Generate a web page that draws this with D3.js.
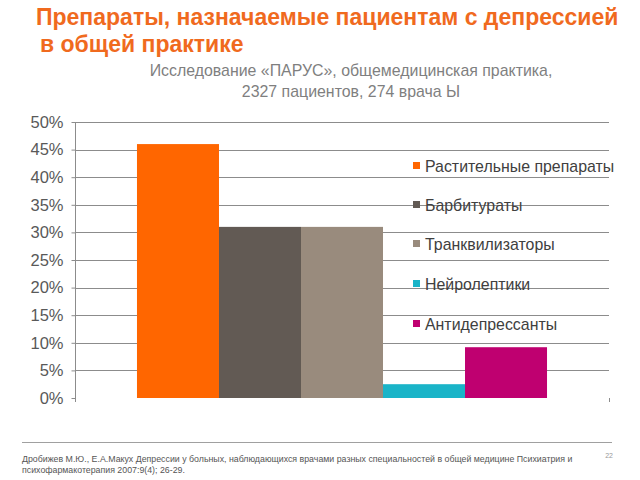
<!DOCTYPE html>
<html>
<head>
<meta charset="utf-8">
<script src="https://cdn.jsdelivr.net/npm/d3@7"></script>
<style>
  body { margin: 0; background: #fff; }
  svg { display: block; font-family: "Liberation Sans", Arial, sans-serif; }
</style>
</head>
<body>
<svg id="chart"></svg>
<script>
const categories = [""];
const series = ["Растительные препараты", "Барбитураты", "Транквилизаторы", "Нейролептики", "Антидепрессанты"];
const values = [0.46, 0.31, 0.31, 0.025, 0.092];
const colors = ["#ff6600", "#625a54", "#998b7d", "#1ab4c8", "#bf0070"];
const yTicks = [0, 0.05, 0.1, 0.15, 0.2, 0.25, 0.3, 0.35, 0.4, 0.45, 0.5];

const width = 640;
const height = 480;
const svg = d3.select("#chart").attr("width", width).attr("height", height);

// Title
svg.append("text")
  .attr("x", 36).attr("y", 25)
  .style("font-size", "23px").style("font-weight", "bold").style("fill", "#f06a1e")
  .text("Препараты, назначаемые пациентам с депрессией");
svg.append("text")
  .attr("x", 40).attr("y", 52)
  .style("font-size", "23px").style("font-weight", "bold").style("fill", "#f06a1e")
  .text("в общей практике");

// Subtitle
svg.append("text")
  .attr("x", 351).attr("y", 76).attr("text-anchor", "middle")
  .style("font-size", "15.9px").style("fill", "#7f7f7f")
  .text("Исследование «ПАРУС», общемедицинская практика,");
svg.append("text")
  .attr("x", 351).attr("y", 97).attr("text-anchor", "middle")
  .style("font-size", "15.9px").style("fill", "#7f7f7f")
  .text("2327 пациентов, 274 врача Ы");

// Plot area
const margin = { left: 75, right: 609, top: 122, bottom: 398 };

const y = d3.scaleLinear().domain([0, 0.5]).range([margin.bottom, margin.top]);

const x0 = d3.scaleBand()
  .domain(categories)
  .range([margin.left, margin.right])
  .paddingInner(0.1313)
  .paddingOuter(0.1313);

const x1 = d3.scaleBand()
  .domain(series)
  .range([0, x0.bandwidth()]);

// Gridlines
svg.append("g")
  .selectAll("line")
  .data(yTicks.filter((d) => d > 0))
  .enter()
  .append("line")
  .attr("x1", margin.left).attr("x2", margin.right)
  .attr("y1", (d) => Math.round(y(d)) + 0.5).attr("y2", (d) => Math.round(y(d)) + 0.5)
  .attr("stroke", "#8c8c8c").attr("stroke-width", 1);

// Y axis
const yAxis = svg.append("g")
  .attr("transform", `translate(${margin.left + 0.5},0)`)
  .call(d3.axisLeft(y).tickValues(yTicks).tickFormat(d3.format(".0%")).tickSize(4).tickPadding(8));
yAxis.select(".domain").attr("stroke", "#8c8c8c").attr("d", `M0,${margin.top}V${margin.bottom + 4}`);
yAxis.selectAll(".tick line").attr("stroke", "#8c8c8c");
yAxis.selectAll(".tick text")
  .style("font-size", "16.5px").style("fill", "#595959")
  .style("font-family", "'Liberation Sans', Arial, sans-serif");

// small mark at right end of the category axis
svg.append("line")
  .attr("x1", margin.right + 0.5).attr("x2", margin.right + 0.5)
  .attr("y1", margin.bottom).attr("y2", margin.bottom + 4)
  .attr("stroke", "#8c8c8c");

// Bars
svg.append("g")
  .selectAll("g")
  .data(categories)
  .enter()
  .append("g")
  .attr("transform", (c) => `translate(${x0(c)},0)`)
  .selectAll("rect")
  .data(series.map((s, i) => ({ s, v: values[i], c: colors[i] })))
  .enter()
  .append("rect")
  .attr("x", (d) => x1(d.s))
  .attr("width", x1.bandwidth())
  .attr("y", (d) => y(d.v))
  .attr("height", (d) => y(0) - y(d.v))
  .attr("fill", (d) => d.c);

// Legend (drawn over the gridlines, no background)
const legend = svg.append("g").attr("transform", "translate(413,0)");
const legendY = [166, 205, 244, 284, 324];
const item = legend.selectAll("g")
  .data(series)
  .enter()
  .append("g")
  .attr("transform", (d, i) => `translate(0,${legendY[i]})`);
item.append("rect")
  .attr("x", 0).attr("y", -4).attr("width", 7).attr("height", 7)
  .attr("fill", (d, i) => colors[i]);
item.append("text")
  .attr("x", 12).attr("y", 0).attr("dy", "0.35em")
  .style("font-size", "15.9px").style("fill", "#404040")
  .text((d) => d);

// Footer
svg.append("line")
  .attr("x1", 22).attr("x2", 612).attr("y1", 442.5).attr("y2", 442.5)
  .attr("stroke", "#a0a0a0").attr("stroke-width", 1);
svg.append("text")
  .attr("x", 22).attr("y", 462)
  .style("font-size", "8.8px").style("fill", "#555")
  .text("Дробижев М.Ю., Е.А.Макух Депрессии у больных, наблюдающихся врачами разных специальностей в общей медицине Психиатрия и");
svg.append("text")
  .attr("x", 22).attr("y", 473)
  .style("font-size", "8.8px").style("fill", "#555")
  .text("психофармакотерапия 2007:9(4); 26-29.");
svg.append("text")
  .attr("x", 613).attr("y", 458).attr("text-anchor", "end")
  .style("font-size", "7px").style("fill", "#999")
  .text("22");
</script>
</body>
</html>
